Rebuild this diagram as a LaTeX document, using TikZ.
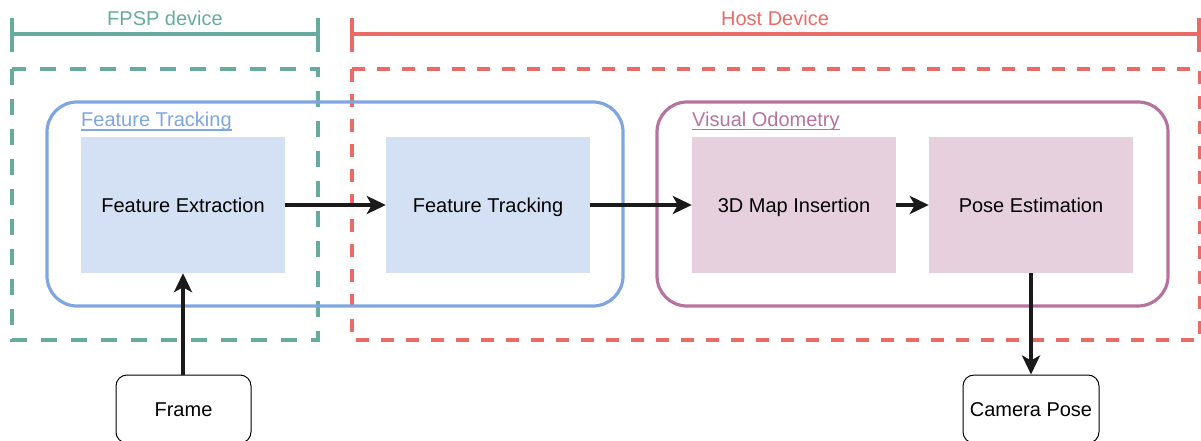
\documentclass[tikz,border=0pt]{standalone}
\usepackage{fontspec}
\setmainfont{Liberation Sans}
\usetikzlibrary{arrows.meta}
\definecolor{cgreen}{HTML}{67AB9F}
\definecolor{cred}{HTML}{EA6B66}
\definecolor{cblue}{HTML}{7EA6E0}
\definecolor{cbluefill}{HTML}{D4E1F5}
\definecolor{cpurple}{HTML}{B5739D}
\definecolor{cpurplefill}{HTML}{E6D0DE}
\definecolor{carrow}{HTML}{1A1A1A}
\tikzset{
  txt/.style={font=\fontsize{20}{24}\selectfont},
  fixtxt/.style={txt, text height=18pt, text depth=4pt},
  procbox/.style={fixtxt, minimum width=204pt, minimum height=136pt, inner sep=0pt, text=black},
  groupbox/.style={minimum height=204pt, inner sep=0pt, line width=3.2pt, rounded corners=30pt},
  iobox/.style={fixtxt, draw=black, line width=1pt, rounded corners=11pt, minimum height=68pt, inner sep=0pt},
  flow/.style={draw=carrow, line width=3.5pt, -{Stealth[length=19pt,width=18pt,inset=5pt]}},
  bracket/.style={line width=3.2pt},
  zone/.style={line width=3.8pt},
  grouplabel/.style={txt, anchor=base west, inner sep=0pt},
}
\begin{document}
\begin{tikzpicture}[x=1pt,y=-1pt]
\useasboundingbox (0,0) rectangle (1201,441);
% brackets
\draw[bracket, cgreen] (12,34) -- (318,34);
\draw[bracket, cgreen] (12,18) -- (12,52);
\draw[bracket, cgreen] (318,18) -- (318,52);
\node[txt, text=cgreen, anchor=base] (fpsp) at (165,26) {FPSP device};
\draw[bracket, cred] (352,34) -- (1199,34);
\draw[bracket, cred] (352,18) -- (352,52);
\draw[bracket, cred] (1199,18) -- (1199,52);
\node[txt, text=cred, anchor=base] (host) at (775,26) {Host Device};
% dashed zones
\draw[zone, cgreen, dash pattern=on 16pt off 14pt] (12,69) rectangle (318,340);
\draw[zone, cred, dash pattern=on 13pt off 12pt] (352,69) rectangle (1200,340);
% groups
\node[groupbox, draw=cblue, minimum width=576pt] (ftg) at (335,204) {};
\node[groupbox, draw=cpurple, minimum width=511pt] (vog) at (912.5,204) {};
\node[grouplabel, text=cblue] (ftl) at (81,127) {Feature Tracking};
\draw[cblue, line width=1.5pt] ([yshift=-3pt]ftl.base west) -- ([yshift=-3pt]ftl.base east);
\node[grouplabel, text=cpurple] (vol) at (692,127) {Visual Odometry};
\draw[cpurple, line width=1.5pt] ([yshift=-2.5pt]vol.base west) -- ([yshift=-2.5pt]vol.base east);
% process boxes
\node[procbox, fill=cbluefill] (fe) at (183,205) {Feature Extraction};
\node[procbox, fill=cbluefill] (ft) at (488,205) {Feature Tracking};
\node[procbox, fill=cpurplefill] (mi) at (794,205) {3D Map Insertion};
\node[procbox, fill=cpurplefill] (pe) at (1031,205) {Pose Estimation};
% io boxes
\node[iobox, minimum width=135pt] (frame) at (183.5,409) {Frame};
\node[iobox, minimum width=136pt] (cam) at (1031,409) {Camera Pose};
% arrows
\draw[flow] (fe) -- (ft);
\draw[flow] (ft) -- (mi);
\draw[flow] (mi) -- (pe);
\draw[flow] (frame.north -| fe.south) -- (fe.south);
\draw[flow] (pe.south) -- (cam.north -| pe.south);
\end{tikzpicture}
\end{document}
